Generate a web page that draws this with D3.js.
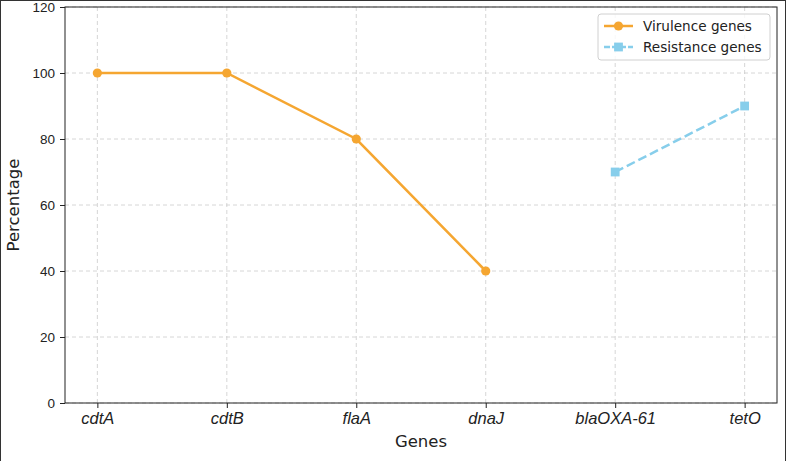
<!DOCTYPE html>
<html>
<head>
<meta charset="utf-8">
<script src="https://cdn.jsdelivr.net/npm/d3@7"></script>
<style>
  html, body { margin: 0; padding: 0; background: #fff; }
  svg { display: block; font-family: "DejaVu Sans", sans-serif; }
</style>
</head>
<body>
<svg id="chart"></svg>
<script>
"use strict";

const genes = ["cdtA", "cdtB", "flaA", "dnaJ", "blaOXA-61", "tetO"];
const virulenceGenes = ["cdtA", "cdtB", "flaA", "dnaJ"];
const virulenceValues = [100, 100, 80, 40];
const resistanceGenes = ["blaOXA-61", "tetO"];
const resistanceValues = [70, 90];
const yTicks = [0, 20, 40, 60, 80, 100, 120];

const width = 787, height = 461;
const margin = { left: 65, right: 10, top: 7, bottom: 58 };
const ORANGE = "#f5a631";
const BLUE = "#87ceeb";

const svg = d3.select("#chart").attr("width", width).attr("height", height);

// figure border
svg.append("rect")
    .attr("x", 0.5).attr("y", 0.5)
    .attr("width", width - 2).attr("height", height + 5)
    .attr("fill", "none").attr("stroke", "#333").attr("stroke-width", 1);

const x = d3.scaleLinear()
    .domain([-0.25, genes.length - 0.75])
    .range([margin.left, width - margin.right]);
const y = d3.scaleLinear()
    .domain([0, 120])
    .range([height - margin.bottom, margin.top]);
const xi = g => x(genes.indexOf(g));

// grid
const grid = svg.append("g").attr("stroke", "#cccccc").attr("stroke-dasharray", "4,3").attr("stroke-width", 0.8);
grid.selectAll(".gx").data(genes).join("line")
    .attr("x1", d => xi(d)).attr("x2", d => xi(d))
    .attr("y1", y(120)).attr("y2", y(0));
grid.selectAll(".gy").data(yTicks).join("line")
    .attr("x1", x.range()[0]).attr("x2", x.range()[1])
    .attr("y1", d => y(d)).attr("y2", d => y(d));

// axes
const xAxis = svg.append("g")
    .attr("transform", `translate(0,${y(0)})`)
    .call(d3.axisBottom(x).tickValues(d3.range(genes.length)).tickFormat(i => genes[i]).tickSize(5).tickSizeOuter(0).tickPadding(3));
xAxis.selectAll("text").attr("font-size", 16.5).attr("font-style", "italic").attr("fill", "#222").attr("dy", "0.8em");
const yAxis = svg.append("g")
    .attr("transform", `translate(${x.range()[0]},0)`)
    .call(d3.axisLeft(y).tickValues(yTicks).tickSize(5).tickSizeOuter(0).tickPadding(5));
yAxis.selectAll("text").attr("font-size", 13.5).attr("fill", "#222");
svg.selectAll(".domain").remove();
svg.selectAll(".tick line").attr("stroke", "#222");

// frame
svg.append("rect")
    .attr("x", x.range()[0]).attr("y", y(120))
    .attr("width", x.range()[1] - x.range()[0]).attr("height", y(0) - y(120))
    .attr("fill", "none").attr("stroke", "#222").attr("stroke-width", 1);

// lines
const line = d3.line().x(d => xi(d[0])).y(d => y(d[1]));
const vData = d3.zip(virulenceGenes, virulenceValues);
const rData = d3.zip(resistanceGenes, resistanceValues);

svg.append("path").datum(vData)
    .attr("d", line).attr("fill", "none").attr("stroke", ORANGE).attr("stroke-width", 2.5);
svg.selectAll(".vdot").data(vData).join("circle")
    .attr("cx", d => xi(d[0])).attr("cy", d => y(d[1])).attr("r", 4.6).attr("fill", ORANGE);

svg.append("path").datum(rData)
    .attr("d", line).attr("fill", "none").attr("stroke", BLUE).attr("stroke-width", 2.5)
    .attr("stroke-dasharray", "9,4");
svg.selectAll(".rdot").data(rData).join("rect")
    .attr("x", d => xi(d[0]) - 4.4).attr("y", d => y(d[1]) - 4.4)
    .attr("width", 8.8).attr("height", 8.8).attr("fill", BLUE);

// labels
svg.append("text")
    .attr("x", (x.range()[0] + x.range()[1]) / 2).attr("y", 447)
    .attr("text-anchor", "middle").attr("font-size", 16.5).attr("fill", "#222")
    .text("Genes");
svg.append("text")
    .attr("transform", `translate(19,${(y(0) + y(120)) / 2}) rotate(-90)`)
    .attr("text-anchor", "middle").attr("font-size", 16.5).attr("fill", "#222")
    .text("Percentage");

// legend
const legend = svg.append("g").attr("transform", "translate(598,14)");
legend.append("rect")
    .attr("width", 172).attr("height", 46).attr("rx", 3)
    .attr("fill", "#fff").attr("fill-opacity", 0.8).attr("stroke", "#d0d0d0");
const items = [
    { label: "Virulence genes", color: ORANGE, dash: null, shape: "circle" },
    { label: "Resistance genes", color: BLUE, dash: "6,2", shape: "square" }
];
const li = legend.selectAll(".li").data(items).join("g")
    .attr("transform", (d, i) => `translate(6,${12 + i * 21})`);
li.append("line").attr("x1", 0).attr("x2", 29).attr("stroke", d => d.color)
    .attr("stroke-width", 2.5).attr("stroke-dasharray", d => d.dash);
li.filter(d => d.shape === "circle").append("circle").attr("cx", 14.5).attr("r", 4.6).attr("fill", d => d.color);
li.filter(d => d.shape === "square").append("rect").attr("x", 10.1).attr("y", -4.4)
    .attr("width", 8.8).attr("height", 8.8).attr("fill", d => d.color);
li.append("text").attr("x", 39).attr("dy", "0.35em").attr("font-size", 13.6).attr("fill", "#222")
    .text(d => d.label);
</script>
</body>
</html>
